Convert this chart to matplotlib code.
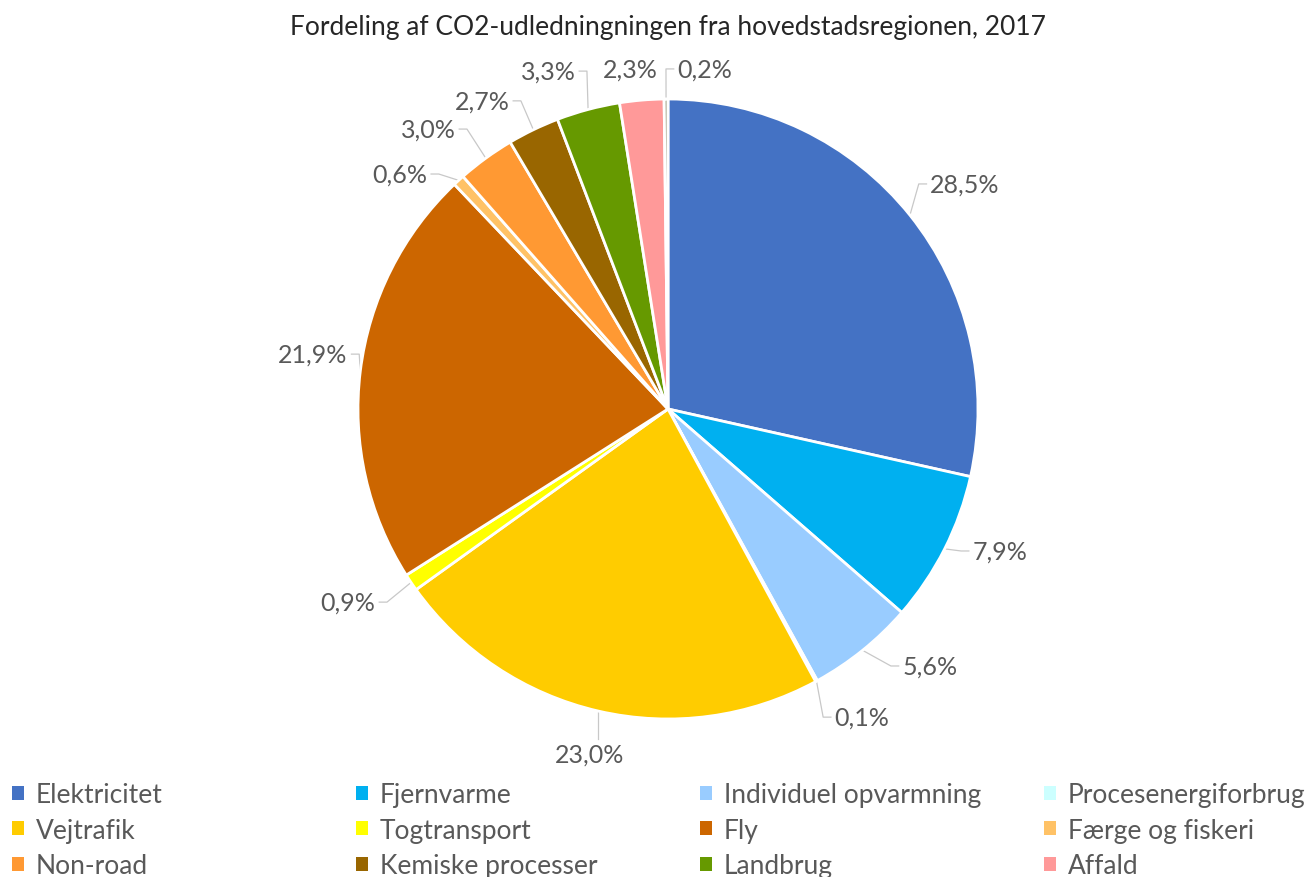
import numpy as np
import matplotlib
matplotlib.use('Agg')
import matplotlib.pyplot as plt
from matplotlib.patches import Patch

plt.rcParams['font.family'] = ['Lato', 'DejaVu Sans']

# data
categories = ['Elektricitet', 'Fjernvarme', 'Individuel opvarmning', 'Procesenergiforbrug',
              'Vejtrafik', 'Togtransport', 'Fly', 'Færge og fiskeri',
              'Non-road', 'Kemiske processer', 'Landbrug', 'Affald', 'Andet']
shares = [28.5, 7.9, 5.6, 0.1, 23.0, 0.9, 21.9, 0.6, 3.0, 2.7, 3.3, 2.3, 0.2]
colors = ['#4472C4', '#00B0F0', '#99CCFF', '#CCFFFF',
          '#FFCC00', '#FFFF00', '#CC6600', '#FFC266',
          '#FF9933', '#996600', '#669900', '#FF9999', '#A5A58D']

# label positions (pie radius units), Excel "best fit" style
label_pos = [(0.958, 0.726), (1.071, -0.458), (0.845, -0.829), (0.626, -0.994),
             (-0.252, -1.113), (-1.032, -0.623), (-1.145, 0.177), (-0.865, 0.758),
             (-0.774, 0.903), (-0.600, 0.994), (-0.387, 1.090), (-0.123, 1.097),
             (0.119, 1.097)]

W, H = 1311, 878
fig = plt.figure(figsize=(W / 100, H / 100), dpi=100)

cx, cy, R = 668, 410, 310
a = 1.4
ax = fig.add_axes([(cx - R * a) / W, (H - cy - R * a) / H, 2 * R * a / W, 2 * R * a / H])
wedges, _ = ax.pie(shares, colors=colors, startangle=90, counterclock=False,
                   wedgeprops=dict(edgecolor='white', linewidth=2))
ax.set_xlim(-a, a)
ax.set_ylim(-a, a)
ax.set_aspect('equal')
ax.axis('off')

texts = []
for i, v in enumerate(shares):
	txt = ('%.1f' % v).replace('.', ',') + '%'
	lx, ly = label_pos[i]
	texts.append(ax.text(lx, ly, txt, ha='center', va='center', fontsize=18, color='#595959'))

fig.text(cx / W, 1 - 28 / H, 'Fordeling af CO2-udledningningen fra hovedstadsregionen, 2017',
		 ha='center', va='center', fontsize=19, color='#262626')

# leader lines from slice edge to the label
fig.canvas.draw()
inv = ax.transData.inverted()
cum = np.cumsum([0] + shares)
for i, v in enumerate(shares):
	mid = np.deg2rad(90 - (cum[i] + v / 2) * 3.6)
	px, py = np.cos(mid), np.sin(mid)
	bb = texts[i].get_window_extent().transformed(inv)
	gap = 0.012
	if bb.x0 - gap <= px <= bb.x1 + gap:
		sy = bb.y0 - gap if py < bb.y0 else bb.y1 + gap
		xs, ys = [px, px], [py, sy]
	elif px < bb.x0:
		sx = bb.x0 - gap
		xs, ys = [px, sx - 0.025, sx], [py, label_pos[i][1], label_pos[i][1]]
	else:
		sx = bb.x1 + gap
		xs, ys = [px, sx + 0.025, sx], [py, label_pos[i][1], label_pos[i][1]]
	if np.hypot(xs[-1] - px, ys[-1] - py) > 0.06:
		ax.plot(xs, ys, color='#C8C8C8', lw=0.9, clip_on=False, zorder=0)

# legend: 4 equal columns, like the original (last row is off the canvas)
handles = [Patch(facecolor=c, edgecolor='none') for c in colors]
col_x = [12, 356, 700, 1044]
for k in range(4):
	idx = [j for j in range(k, 12, 4)]
	leg = fig.legend([handles[j] for j in idx], [categories[j] for j in idx],
					 loc='upper left', bbox_to_anchor=(col_x[k] / W, 1 - 783 / H),
					 frameon=False, fontsize=19, handlelength=0.45, handleheight=0.45,
					 handletextpad=0.45, labelspacing=0.4, borderaxespad=0, borderpad=0)
	for t in leg.get_texts():
		t.set_color('#595959')

fig.savefig('out.png', dpi=100)
